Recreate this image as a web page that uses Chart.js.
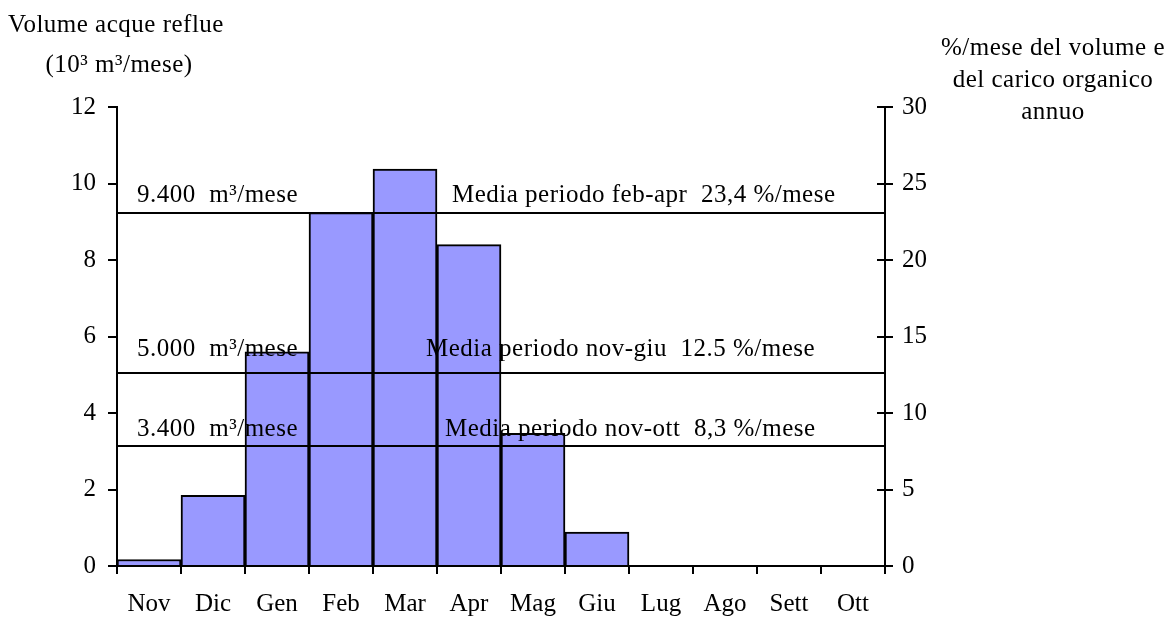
<!DOCTYPE html>
<html>
<head>
<meta charset="utf-8">
<script src="https://cdn.jsdelivr.net/npm/chart.js@4.4.1/dist/chart.umd.min.js"></script>
<style>
    html, body { margin: 0; padding: 0; background: #fff; }
    #wrap { width: 1169px; height: 617px; }
</style>
</head>
<body>
<div id="wrap"><canvas id="chart"></canvas></div>
<script>
const mesi = ['Nov', 'Dic', 'Gen', 'Feb', 'Mar', 'Apr', 'Mag', 'Giu', 'Lug', 'Ago', 'Sett', 'Ott'];
const volumi = [0.17, 1.85, 5.6, 9.24, 10.38, 8.4, 3.47, 0.89, 0, 0, 0, 0];

// medie di periodo (in 10^3 m3/mese, asse sinistro)
const medieValori = [9.24, 5.05, 3.15];
const medieVolume = ['9.400  m³/mese', '5.000  m³/mese', '3.400  m³/mese'];
const medieTesto = [
    'Media periodo feb-apr  23,4 %/mese',
    'Media periodo nov-giu  12.5 %/mese',
    'Media periodo nov-ott  8,3 %/mese'
];

const titoloSinistra = ['Volume acque reflue', '(10³ m³/mese)'];
const titoloDestra = ['%/mese del volume e', 'del carico organico', 'annuo'];

const FONT = 'Liberation Serif, Times New Roman, serif';

const overlay = {
    id: 'overlay',
    afterDatasetsDraw(chart) {
        const ctx = chart.ctx;
        const area = chart.chartArea;
        const y = chart.scales.y;
        const y2 = chart.scales.y2;

        // linee delle medie
        ctx.save();
        ctx.strokeStyle = '#000';
        ctx.lineWidth = 2;
        medieValori.forEach(v => {
            const py = Math.round(y.getPixelForValue(v));
            ctx.beginPath();
            ctx.moveTo(area.left, py);
            ctx.lineTo(area.right, py);
            ctx.stroke();
        });

        // testi sopra le linee
        ctx.fillStyle = '#000';
        ctx.font = '25px ' + FONT;
        ctx.letterSpacing = '0.5px';
        ctx.textBaseline = 'alphabetic';
        ctx.textAlign = 'left';
        const sopra = [11, 17, 10];
        const mediaX = [452, 426, 445];
        medieValori.forEach((v, i) => {
            const py = y.getPixelForValue(v) - sopra[i];
            ctx.fillText(medieVolume[i], area.left + 20, py);
            ctx.fillText(medieTesto[i], mediaX[i], py);
        });

        // tacche interne asse destro
        ctx.lineWidth = 2;
        y2.ticks.forEach(t => {
            const py = Math.round(y2.getPixelForValue(t.value));
            ctx.beginPath();
            ctx.moveTo(area.right - 8, py);
            ctx.lineTo(area.right, py);
            ctx.stroke();
        });

        // titoli assi
        ctx.textAlign = 'center';
        ctx.fillText(titoloSinistra[0], 116, 32);
        ctx.fillText(titoloSinistra[1], 119, 72);
        titoloDestra.forEach((t, i) => ctx.fillText(t, 1053, 55 + i * 32));
        ctx.restore();
    }
};

const tickFont = { family: FONT, size: 25 };

new Chart(document.getElementById('chart'), {
    type: 'bar',
    data: {
        labels: mesi,
        datasets: [{
            data: volumi,
            backgroundColor: '#9999ff',
            borderColor: '#000',
            borderWidth: 2,
            barPercentage: 1,
            categoryPercentage: 1,
            yAxisID: 'y'
        }]
    },
    options: {
        responsive: true,
        maintainAspectRatio: false,
        animation: false,
        layout: { padding: { top: 107, left: 0, right: 0, bottom: 0 } },
        plugins: { legend: { display: false }, tooltip: { enabled: false } },
        scales: {
            x: {
                offset: true,
                grid: { offset: true, drawOnChartArea: false, tickLength: 8, color: '#000', lineWidth: 2 },
                border: { color: '#000', width: 2 },
                ticks: { color: '#000', font: tickFont, padding: 15, maxRotation: 0, autoSkip: false },
                afterFit: s => { s.height = 51; }
            },
            y: {
                position: 'left',
                min: 0,
                max: 12,
                ticks: { stepSize: 2, color: '#000', font: tickFont, padding: 12 },
                grid: { drawOnChartArea: false, tickLength: 9, color: '#000', lineWidth: 2 },
                border: { color: '#000', width: 2 },
                afterFit: s => { s.width = 117; }
            },
            y2: {
                position: 'right',
                min: 0,
                max: 30,
                ticks: { stepSize: 5, color: '#000', font: tickFont, padding: 9 },
                grid: { drawOnChartArea: false, tickLength: 8, color: '#000', lineWidth: 2 },
                border: { color: '#000', width: 2 },
                afterFit: s => { s.width = 284; }
            }
        }
    },
    plugins: [overlay]
});
</script>
</body>
</html>
